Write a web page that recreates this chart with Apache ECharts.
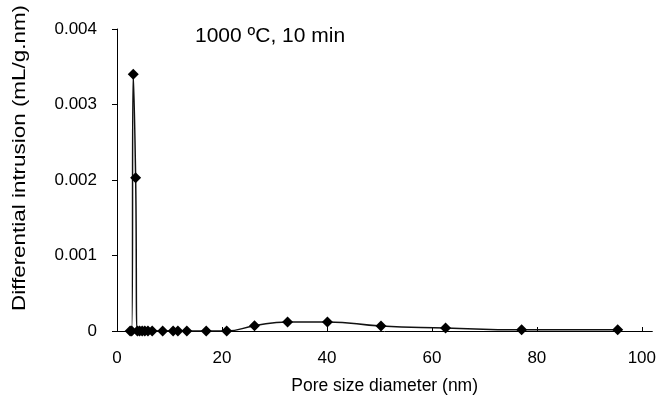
<!DOCTYPE html>
<html>
<head>
<meta charset="utf-8">
<script src="https://cdn.jsdelivr.net/npm/echarts@6/dist/echarts.min.js"></script>
<style>
  html, body { margin: 0; padding: 0; background: #fff; }
  #main { width: 659px; height: 403px; }
</style>
</head>
<body>
<div id="main"></div>
<script>
// pore size (nm) and differential intrusion (mL/g.nm)
var poreSize = [2.5, 2.8, 3.1, 3.55, 3.9, 4.3, 4.8, 5.3, 5.9, 6.7, 8.7, 10.7, 11.6, 13.3, 17.0, 20.9, 26.2, 32.5, 40.1, 50.3, 62.6, 77.1, 95.4];
var intrusion = [0, 0, 0.0034, 0.00203, 0, 0, 0, 0, 0, 0, 0, 0, 0, 0, 0, 0, 0.00007, 0.00012, 0.00012, 0.000066, 0.00004, 0.000015, 0.000015];
var xTicks = [0, 20, 40, 60, 80, 100];

var font = 'Liberation Sans, Arial, sans-serif';

var app = echarts.init(document.getElementById('main'));

var points = [];
for (var i = 0; i < poreSize.length; i++) {
    points.push([poreSize[i], intrusion[i]]);
}

var option = {
    animation: false,
    backgroundColor: '#fff',
    title: {
        text: '1000 ºC, 10 min',
        left: 190,
        top: 21,
        textStyle: { fontFamily: font, fontSize: 21, fontWeight: 'normal', color: '#000' }
    },
    // y axis title, stretched a bit along its length like the original
    graphic: [{
        type: 'text',
        x: 20,
        y: 158,
        rotation: Math.PI / 2,
        scaleX: 1.18,
        style: {
            text: 'Differential intrusion (mL/g.nm)',
            font: '19px ' + font,
            fill: '#000',
            align: 'center',
            verticalAlign: 'middle'
        }
    }],
    grid: { left: 117, right: 6, top: 29, bottom: 72 },
    xAxis: {
        type: 'value',
        min: 0,
        max: 102,
        name: 'Pore size diameter (nm)',
        nameLocation: 'middle',
        nameGap: 46,
        nameTextStyle: { fontFamily: font, fontSize: 17.5, color: '#000' },
        axisLine: { lineStyle: { color: '#000', width: 1 } },
        axisTick: { inside: true, length: 4, lineStyle: { color: '#000' }, customValues: xTicks },
        axisLabel: { fontFamily: font, fontSize: 17, color: '#000', margin: 19, customValues: xTicks },
        splitLine: { show: false }
    },
    yAxis: {
        type: 'value',
        min: 0,
        max: 0.004,
        interval: 0.001,
        axisLine: { show: true, lineStyle: { color: '#000', width: 1 } },
        axisTick: { show: true, length: 5, lineStyle: { color: '#000' } },
        axisLabel: { fontFamily: font, fontSize: 17, color: '#000', margin: 20 },
        splitLine: { show: false }
    },
    series: [{
        type: 'line',
        data: points,
        smooth: true,
        symbol: 'diamond',
        symbolSize: 11,
        itemStyle: { color: '#000' },
        lineStyle: { color: '#111', width: 1.5 }
    }]
};

app.setOption(option);
</script>
</body>
</html>
